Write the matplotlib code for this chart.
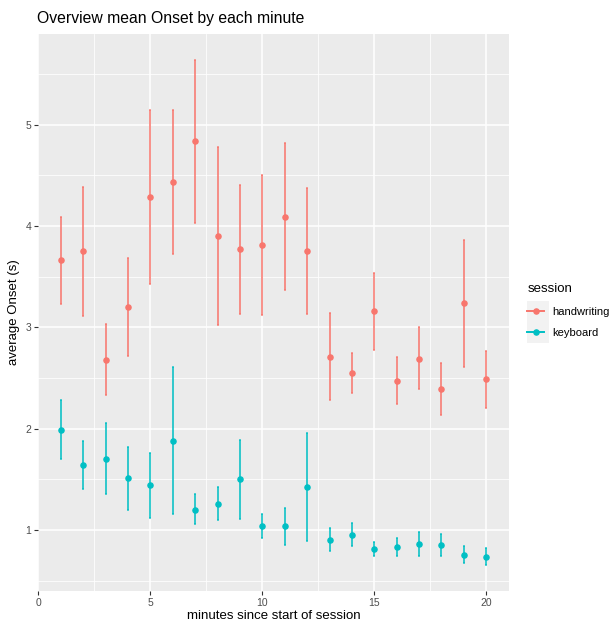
import matplotlib.pyplot as plt
from matplotlib.lines import Line2D
from matplotlib.patches import Rectangle
import numpy as np

plt.rcParams['font.family'] = ['Liberation Sans', 'DejaVu Sans']

minutes = list(range(1, 21))

hw_mean = [3.66, 3.75, 2.68, 3.20, 4.29, 4.43, 4.84, 3.90, 3.77, 3.81,
           4.09, 3.75, 2.71, 2.55, 3.16, 2.47, 2.69, 2.39, 3.24, 2.49]
hw_low = [3.23, 3.11, 2.33, 2.72, 3.43, 3.72, 4.03, 3.02, 3.13, 3.12,
          3.37, 3.13, 2.28, 2.35, 2.78, 2.24, 2.39, 2.13, 2.61, 2.20]
hw_high = [4.09, 4.39, 3.03, 3.68, 5.15, 5.15, 5.64, 4.78, 4.40, 4.50,
           4.82, 4.38, 3.14, 2.75, 3.54, 2.71, 3.00, 2.65, 3.86, 2.77]

kb_mean = [1.99, 1.64, 1.70, 1.51, 1.44, 1.88, 1.20, 1.26, 1.50, 1.04,
           1.04, 1.42, 0.90, 0.95, 0.81, 0.83, 0.86, 0.85, 0.755, 0.735]
kb_low = [1.70, 1.40, 1.35, 1.20, 1.12, 1.16, 1.06, 1.10, 1.11, 0.92,
          0.85, 0.89, 0.79, 0.84, 0.74, 0.74, 0.74, 0.745, 0.67, 0.65]
kb_high = [2.28, 1.88, 2.06, 1.82, 1.76, 2.61, 1.35, 1.42, 1.89, 1.16,
           1.22, 1.96, 1.02, 1.065, 0.88, 0.92, 0.98, 0.96, 0.84, 0.82]

sessions = ['handwriting', 'keyboard']
colors = ['#F8766D', '#00BFC4']

fig = plt.figure(figsize=(6.14, 6.21), dpi=100)
ax = fig.add_axes([0.0622, 0.0488, 0.7663, 0.8972])
ax.set_facecolor('#EBEBEB')
for s in ax.spines.values():
    s.set_visible(False)

series = [(hw_mean, hw_low, hw_high), (kb_mean, kb_low, kb_high)]
for (m, lo, hi), c in zip(series, colors):
    m = np.array(m)
    yerr = [m - np.array(lo), np.array(hi) - m]
    ax.errorbar(minutes, m, yerr=yerr, fmt='none', ecolor=c, elinewidth=1.4,
                capsize=1.0, capthick=1.2, alpha=0.8, zorder=3)
    ax.plot(minutes, m, 'o', color=c, markersize=3.7, zorder=4)

ax.set_xlim(-0.005, 21.0)
ax.set_ylim(0.4, 5.9)
ax.set_xticks([0, 5, 10, 15, 20])
ax.set_xticks([2.5, 7.5, 12.5, 17.5], minor=True)
ax.set_yticks([1, 2, 3, 4, 5])
ax.set_yticks([0.5, 1.5, 2.5, 3.5, 4.5, 5.5], minor=True)
ax.grid(which='major', color='white', linewidth=1.1, zorder=0)
ax.grid(which='minor', color='white', linewidth=0.55, zorder=0)
ax.set_axisbelow(True)
ax.tick_params(which='major', length=3, width=0.8, color='#333333',
               labelsize=7.5, labelcolor='#4D4D4D', pad=2)
ax.tick_params(which='minor', length=0)

ax.set_xlabel('minutes since start of session', fontsize=9.5, labelpad=2)
ax.set_ylabel('average Onset (s)', fontsize=9.5, labelpad=4)
fig.text(37 / 614, 1 - 18 / 621, 'Overview mean Onset by each minute',
         fontsize=11.3, va='center', ha='left')

# legend
fig.patches.append(Rectangle((527 / 614, 1 - 343 / 621), 22 / 614, 42 / 621,
                             transform=fig.transFigure, facecolor='#F2F2F2',
                             edgecolor='none', zorder=0))
handles = [Line2D([0], [0], color=c, marker='o', markersize=3.7, linewidth=1.4)
           for c in colors]
leg = fig.legend(handles, sessions, title='session', frameon=False,
                 loc='upper left', bbox_to_anchor=(523 / 614, 1 - 279 / 621),
                 fontsize=8, title_fontsize=9.5, handlelength=1.5,
                 handletextpad=0.7, labelspacing=1.0, borderaxespad=0)
leg._legend_box.align = 'left'
leg._legend_box._children[1].sep = 8

fig.savefig('out.png', dpi=100)
